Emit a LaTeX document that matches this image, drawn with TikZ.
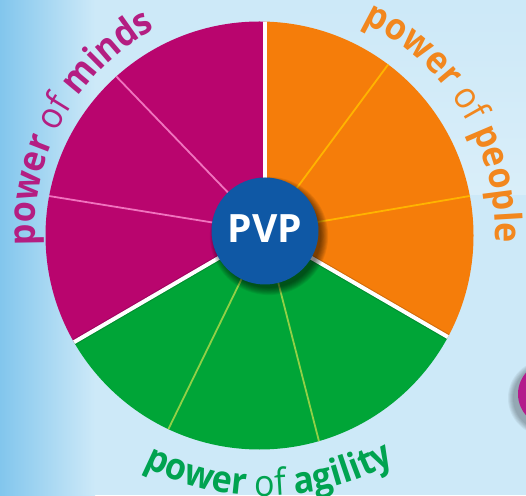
\documentclass[tikz,border=0pt]{standalone}
\usepackage{fontspec}
\newfontfamily\arcfont[FakeStretch=0.92]{Open Sans}
\newfontfamily\hubfont{Open Sans}
\usetikzlibrary{decorations.text}
\definecolor{bg}{RGB}{205,233,248}
\definecolor{bgdark}{RGB}{130,198,237}
\definecolor{mag}{RGB}{185,5,110}
\definecolor{org}{RGB}{245,125,10}
\definecolor{grn}{RGB}{0,165,55}
\definecolor{magline}{RGB}{240,115,190}
\definecolor{orgline}{RGB}{255,180,0}
\definecolor{grnline}{RGB}{145,208,70}
\definecolor{magtxt}{RGB}{180,30,130}
\definecolor{orgtxt}{RGB}{242,135,30}
\definecolor{grntxt}{RGB}{0,163,80}
\definecolor{hubblue}{RGB}{15,88,165}
\definecolor{sidemag}{RGB}{180,28,140}
\newcommand\arcsz{\fontsize{37}{37}\selectfont}
\newcommand\wB{\arcfont\arcsz\bfseries}
\newcommand\wR{\arcfont\arcsz\mdseries}
\tikzset{
  maindiv/.style={white, line width=4pt},
  subdiv/.style={line width=1.8pt},
  arctext/.style={decorate, decoration={text along path, text align=center}},
}
\begin{document}
\begin{tikzpicture}[x=1pt,y=1pt]
\useasboundingbox (0,0) rectangle (526,495);
% background
\fill[bg] (0,0) rectangle (526,495);
\shade[left color=bgdark, right color=bg] (0,0) rectangle (95,495);
\shade[top color=bg, bottom color=white, opacity=0.25] (300,300) rectangle (526,495);
% side circle (cut off at right)
\foreach \i in {1,...,6}{
  \fill[black, opacity=0.05] (546,97) circle[radius={32+\i}];
}
\node[circle, fill=sidemag, minimum size=64pt, inner sep=0pt] (side) at (550,101) {};
% key points
\coordinate (H) at (265,264);
\coordinate (C) at (259.5,259.5);
% pie
\begin{scope}
  \clip (C) circle[radius=214pt];
  \fill[org] (H) -- ++(-30.1:400pt) arc[start angle=-30.1, end angle=90, radius=400pt] -- cycle;
  \fill[mag] (H) -- ++(90:400pt) arc[start angle=90, end angle=210.2, radius=400pt] -- cycle;
  \fill[grn] (H) -- ++(210.2:400pt) arc[start angle=210.2, end angle=329.9, radius=400pt] -- cycle;
  \path (H) ++(53.5:400pt) coordinate (o1) (H) ++(9.7:400pt) coordinate (o2)
        (H) ++(133.9:400pt) coordinate (m1) (H) ++(170.8:400pt) coordinate (m2)
        (H) ++(244.0:400pt) coordinate (g1) (H) ++(284.4:400pt) coordinate (g2)
        (H) ++(90:400pt) coordinate (d1) (H) ++(-30.1:400pt) coordinate (d2)
        (H) ++(210.2:400pt) coordinate (d3);
  \draw[subdiv, orgline] (H) -- (o1);
  \draw[subdiv, orgline] (H) -- (o2);
  \draw[subdiv, magline] (H) -- (m1);
  \draw[subdiv, magline] (H) -- (m2);
  \draw[subdiv, grnline] (H) -- (g1);
  \draw[subdiv, grnline] (H) -- (g2);
  \draw[black, opacity=0.15, line width=6pt] (H) -- (d2);
  \draw[black, opacity=0.15, line width=6pt] (H) -- (d3);
  \draw[maindiv] (H) -- (d1);
  \draw[maindiv] (H) -- (d2);
  \draw[maindiv] (H) -- (d3);
\end{scope}
% hub shadow
\foreach \i in {1,...,9}{
  \fill[black, opacity=0.07] (269,259) circle[radius={51+\i*0.9}];
}
\node[circle, fill=hubblue, minimum size=107pt, inner sep=0pt] (hub) at (H) {};
\node[text=white, inner sep=0pt] (pvp) at (265,266.5) {\hubfont\bfseries\fontsize{39}{39}\selectfont PVP};
% curved labels
\path (H) ++(211:230pt) coordinate (ls);
\path[arctext, decoration={text color=magtxt, text={|\wB|power|\wR| of |\wB|minds}}]
  (ls) arc[start angle=211, end angle=91, radius=230pt];
\path (H) ++(91:230pt) coordinate (rs);
\path[arctext, decoration={text color=orgtxt, text={|\wB|power|\wR| of |\wB|people}}]
  (rs) arc[start angle=91, end angle=-29, radius=230pt];
\path (H) ++(211:265pt) coordinate (bs);
\path[arctext, decoration={text color=grntxt, text={|\wB|power|\wR| of |\wB|agility}}]
  (bs) arc[start angle=211, end angle=331, radius=265pt];
\end{tikzpicture}
\end{document}
